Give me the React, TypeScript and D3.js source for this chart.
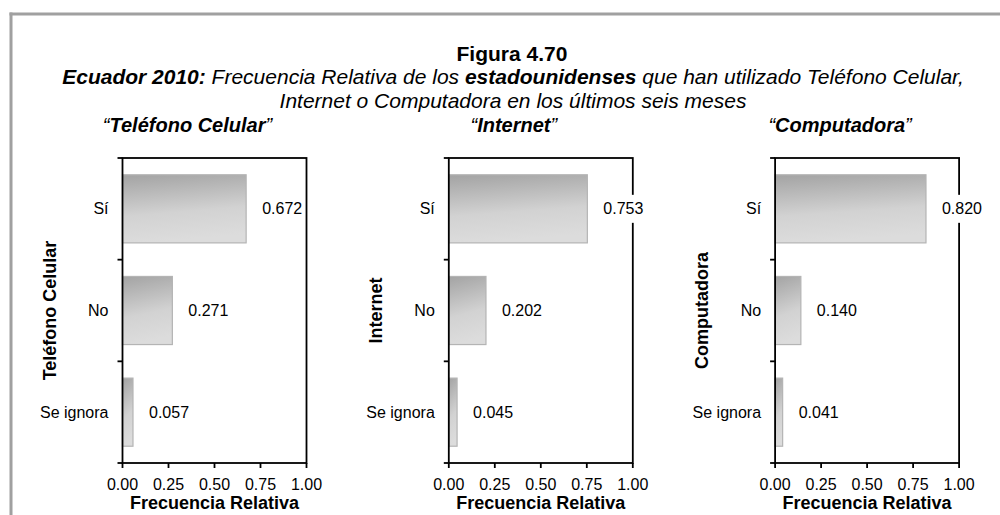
import React from "react";
import * as d3 from "d3";

const categories = ["Sí", "No", "Se ignora"];
const panelNames = ["Teléfono Celular", "Internet", "Computadora"];
const telefonoValues = [0.672, 0.271, 0.057];
const internetValues = [0.753, 0.202, 0.045];
const computadoraValues = [0.82, 0.14, 0.041];
const xTicks = [0, 0.25, 0.5, 0.75, 1];

const W = 1000;
const H = 515;
const FONT = "'Liberation Sans', Arial, Helvetica, sans-serif";

const panelSeries = [telefonoValues, internetValues, computadoraValues];

function textWidth(s: string, fs: number) {
  let w = 0;
  for (const ch of s) w += ch === "." ? 0.278 : 0.556;
  return w * fs;
}

function Panel({ index }: { index: number }) {
  const left = 122.5 + index * 326.3;
  const plotW = 184;
  const top = 158;
  const bottom = 463;
  const values = panelSeries[index];
  const x = d3.scaleLinear().domain([0, 1]).range([left, left + plotW]);
  const y = d3.scaleBand<string>().domain(categories).range([top, bottom]);
  const bw = y.bandwidth();
  const boundaries = [top, ...categories.map((c) => (y(c) as number) + bw)];
  const fmt = d3.format(".3f");
  const tickFmt = d3.format(".2f");
  const cx = left + plotW / 2;
  const labelFs = 16;
  return (
    <g>
      {/* panel title */}
      <text
        x={cx - 27}
        y={132}
        textAnchor="middle"
        fontSize={20}
        fontStyle="italic"
        fontFamily={FONT}
      >
        <tspan>“</tspan>
        <tspan fontWeight="bold">{panelNames[index]}</tspan>
        <tspan>”</tspan>
      </text>
      {/* bars */}
      {categories.map((c, i) => (
        <rect
          key={c}
          x={x(0)}
          y={(y(c) as number) + bw * 0.165}
          width={x(values[i]) - x(0)}
          height={bw * 0.67}
          fill="url(#barGrad)"
          stroke="#b4b4b4"
          strokeWidth={1.2}
        />
      ))}
      {/* frame */}
      <rect
        x={left}
        y={top}
        width={plotW}
        height={bottom - top}
        fill="none"
        stroke="#000"
        strokeWidth={1.8}
      />
      {/* y ticks */}
      {boundaries.map((b, i) => (
        <line key={i} x1={left - 5} x2={left} y1={b} y2={b} stroke="#000" strokeWidth={1.8} />
      ))}
      {/* x ticks */}
      {xTicks.map((t) => (
        <g key={t}>
          <line x1={x(t)} x2={x(t)} y1={bottom} y2={bottom + 5} stroke="#000" strokeWidth={1.8} />
          <text
            x={x(t)}
            y={490}
            textAnchor="middle"
            fontSize={16}
            fontFamily={FONT}
            fill="#000"
          >
            {tickFmt(t)}
          </text>
        </g>
      ))}
      {/* category labels */}
      {categories.map((c) => (
        <text
          key={c}
          x={left - 14}
          y={(y(c) as number) + bw / 2}
          textAnchor="end"
          dominantBaseline="central"
          fontSize={labelFs}
          fontFamily={FONT}
        >
          {c}
        </text>
      ))}
      {/* value labels */}
      {categories.map((c, i) => {
        const s = fmt(values[i]);
        const tx = x(values[i]) + 16;
        const ty = (y(c) as number) + bw / 2;
        const tw = textWidth(s, labelFs);
        return (
          <g key={c}>
            <rect x={tx - 2} y={ty - 14} width={tw + 4} height={28} fill="#fff" />
            <text
              x={tx}
              y={ty}
              dominantBaseline="central"
              fontSize={labelFs}
              fontFamily={FONT}
            >
              {s}
            </text>
          </g>
        );
      })}
      {/* axis titles */}
      <text
        x={cx}
        y={509}
        textAnchor="middle"
        fontSize={18}
        fontWeight="bold"
        fontFamily={FONT}
      >
        Frecuencia Relativa
      </text>
      <text
        transform={`translate(${left - 73},${(top + bottom) / 2}) rotate(-90)`}
        textAnchor="middle"
        dominantBaseline="central"
        fontSize={18}
        fontWeight="bold"
        fontFamily={FONT}
      >
        {panelNames[index]}
      </text>
    </g>
  );
}

export default function App() {
  return (
    <svg
      width={W}
      height={H}
      style={{ position: "absolute", left: 0, top: 0, background: "#fff" }}
    >
      <defs>
        <linearGradient id="barGrad" x1="0" y1="0" x2="0.15" y2="1">
          <stop offset="0" stopColor="#a3a3a3" />
          <stop offset="0.6" stopColor="#d2d2d2" />
          <stop offset="1" stopColor="#dcdcdc" />
        </linearGradient>
      </defs>
      <rect x={0} y={0} width={W} height={H} fill="#fff" />
      {/* outer gray frame */}
      <line x1={9.5} x2={W} y1={14} y2={14} stroke="#a0a0a0" strokeWidth={3} />
      <line x1={11} x2={11} y1={12.5} y2={H} stroke="#a0a0a0" strokeWidth={3} />
      {/* titles */}
      <text x={512} y={61} textAnchor="middle" fontSize={21} fontWeight="bold" fontFamily={FONT}>
        Figura 4.70
      </text>
      <text x={513} y={84} textAnchor="middle" fontSize={21} fontStyle="italic" fontFamily={FONT}>
        <tspan fontWeight="bold">Ecuador 2010:</tspan>
        <tspan> Frecuencia Relativa de los </tspan>
        <tspan fontWeight="bold">estadounidenses</tspan>
        <tspan> que han utilizado Teléfono Celular,</tspan>
      </text>
      <text x={513} y={108} textAnchor="middle" fontSize={21} fontStyle="italic" fontFamily={FONT}>
        Internet o Computadora en los últimos seis meses
      </text>
      {panelNames.map((_, i) => (
        <Panel key={i} index={i} />
      ))}
    </svg>
  );
}
